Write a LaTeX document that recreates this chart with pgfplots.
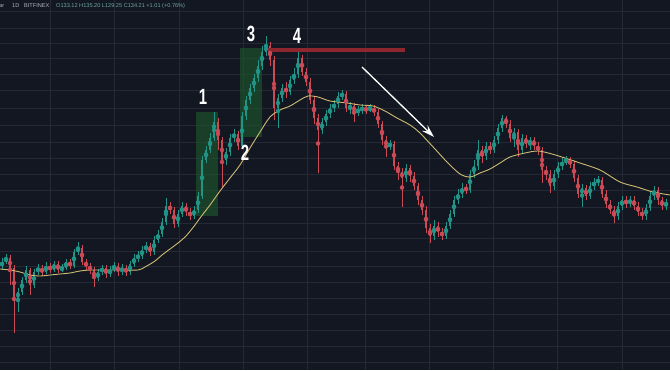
\documentclass[border=0pt]{standalone}
\usepackage{pgfplots}
\pgfplotsset{compat=1.18}
\usepackage{pgfplotstable}
\usepackage{fontspec}
\setmainfont{Liberation Sans}
\usetikzlibrary{arrows.meta}
\definecolor{bg}{HTML}{131722}
\definecolor{gridc}{HTML}{252935}
\definecolor{upc}{HTML}{229487}
\definecolor{dnc}{HTML}{CC4A55}
\definecolor{mac}{HTML}{CDBB72}
\definecolor{boxc}{HTML}{1E5A2C}
\definecolor{resc}{HTML}{8E2630}
\definecolor{hdr}{HTML}{B2B5BE}
\definecolor{hdrv}{HTML}{6FA7A0}

\pgfplotstableread{
x o c hi lo
2 266 262 258 270
6 262 258 254 264
10 258 268 255 285
14 268 298 265 333
18 298 292 288 312
22 292 280 277 295
26 280 270 266 283
30 270 285 268 295
34 285 272 269 288
38 272 268 264 275
42 268 272 265 276
46 272 266 262 274
50 266 270 263 273
54 270 264 261 272
58 264 270 261 273
62 270 268 264 272
66 268 262 259 270
70 262 266 259 269
74 266 252 249 268
78 252 248 242 255
82 248 262 245 265
86 262 266 259 270
90 266 270 263 274
94 270 278 267 287
98 278 272 269 281
102 272 268 265 275
106 268 274 265 278
110 274 270 266 277
114 270 266 262 272
118 266 272 263 276
122 272 268 264 275
126 268 272 265 276
130 272 264 261 275
134 264 258 254 267
138 258 256 251 262
142 256 250 246 259
146 250 246 242 253
150 246 252 243 256
154 252 240 236 255
158 240 234 230 243
162 234 222 218 237
166 222 206 198 225
170 206 210 202 214
174 210 224 207 228
178 224 214 210 227
182 214 206 202 217
186 206 212 203 216
190 212 216 208 220
194 216 210 206 219
198 210 196 192 213
202 196 160 156 199
206 160 150 146 163
210 150 138 133 153
214 138 122 112 141
218 122 140 118 150
222 140 160 137 187
226 160 152 148 165
230 152 138 134 156
234 138 134 129 142
238 134 146 131 150
242 146 116 112 149
246 116 100 96 120
250 100 88 84 104
254 88 78 74 92
258 78 66 60 82
262 66 52 46 70
266 52 46 36 56
270 46 60 42 66
274 60 108 56 120
278 108 98 94 128
282 98 88 84 102
286 88 92 82 98
290 92 80 76 95
294 80 74 68 84
298 74 58 52 78
302 58 72 55 76
306 72 82 68 86
310 82 100 78 104
314 100 118 96 124
318 118 130 114 173
322 130 122 118 134
326 122 114 110 126
330 114 108 104 118
334 108 104 100 112
338 104 96 92 108
342 96 94 90 100
346 94 108 91 112
350 108 106 102 114
354 106 112 103 122
358 112 110 106 116
362 110 108 104 114
366 108 110 105 114
370 110 108 104 112
374 108 112 105 116
378 112 124 109 128
382 124 140 121 145
386 140 146 136 157
390 146 144 140 150
394 144 166 141 170
398 166 172 162 180
402 172 178 168 207
406 178 168 164 182
410 168 176 165 182
414 176 186 172 190
418 186 200 183 205
422 200 210 196 215
426 210 228 206 233
430 228 236 224 243
434 236 226 220 240
438 226 232 222 237
442 232 236 228 240
446 236 226 222 239
450 226 214 210 229
454 214 200 196 217
458 200 194 189 204
462 194 188 183 198
466 188 190 184 194
470 190 174 170 193
474 174 166 160 178
478 166 150 140 170
482 150 156 146 163
486 156 146 142 160
490 146 150 142 154
494 150 140 136 153
498 140 128 124 144
502 128 118 115 132
506 118 124 116 128
510 124 138 120 142
514 138 132 128 147
518 132 150 129 157
522 150 138 134 153
526 138 144 135 148
530 144 140 137 150
534 140 146 137 150
538 146 150 142 155
542 150 170 147 183
546 170 174 166 180
550 174 186 170 193
554 186 174 170 190
558 174 166 162 178
562 166 162 158 170
566 162 160 156 165
570 160 164 157 168
574 164 178 161 182
578 178 194 175 198
582 194 188 184 207
586 188 196 185 200
590 196 186 182 199
594 186 182 178 190
598 182 180 176 186
602 180 194 177 198
606 194 204 190 208
610 204 210 200 214
614 210 216 206 223
618 216 206 202 220
622 206 200 196 210
626 200 204 196 208
630 204 200 196 207
634 200 206 196 210
638 206 212 202 216
642 212 216 208 220
646 216 208 204 220
650 208 196 192 211
654 196 190 186 200
658 190 200 187 205
662 200 206 197 210
666 206 202 199 210
}\candles

\begin{document}
\begin{tikzpicture}
\begin{axis}[
  width=670pt, height=370pt, scale only axis,
  xmin=0, xmax=670, ymin=0, ymax=370, y dir=reverse,
  axis background/.style={fill=bg},
  axis line style={draw=none},
  xtick={50,114,179,243,307,365,429,493,557,622},
  ytick={11,28,43,58,74,90,108,125,142,158,174,190,207,223,238,251,266,282,298,314,330,346,362},
  xticklabels={}, yticklabels={},
  major tick length=0pt,
  grid=major, major grid style={gridc, line width=0.7pt},
]
\coordinate (SW) at (rel axis cs:0,0);
\coordinate (NE) at (rel axis cs:1,1);

% highlight boxes
\addplot[draw=none, fill=boxc, fill opacity=0.6, forget plot] coordinates {(196,112) (218,112) (218,216) (196,216)};
\addplot[draw=none, fill=boxc, fill opacity=0.6, forget plot] coordinates {(240,48) (262,48) (262,137) (240,137)};

% wicks
\addplot[upc, only marks, mark=none, forget plot,
  error bars/.cd, y dir=both, y explicit, error mark=none, error bar style={line width=0.8pt}]
  table[x=x, y expr={\thisrow{c}<\thisrow{o} ? (\thisrow{hi}+\thisrow{lo})/2 : nan}, y error expr={(\thisrow{lo}-\thisrow{hi})/2}] {\candles};
\addplot[dnc, only marks, mark=none, forget plot,
  error bars/.cd, y dir=both, y explicit, error mark=none, error bar style={line width=0.8pt}]
  table[x=x, y expr={\thisrow{c}<\thisrow{o} ? nan : (\thisrow{hi}+\thisrow{lo})/2}, y error expr={(\thisrow{lo}-\thisrow{hi})/2}] {\candles};
% bodies
\addplot[upc, only marks, mark=none, forget plot,
  error bars/.cd, y dir=both, y explicit, error mark=none, error bar style={line width=2.6pt}]
  table[x=x, y expr={\thisrow{c}<\thisrow{o} ? (\thisrow{o}+\thisrow{c})/2 : nan}, y error expr={max(abs(\thisrow{o}-\thisrow{c})/2,0.6)}] {\candles};
\addplot[dnc, only marks, mark=none, forget plot,
  error bars/.cd, y dir=both, y explicit, error mark=none, error bar style={line width=2.6pt}]
  table[x=x, y expr={\thisrow{c}<\thisrow{o} ? nan : (\thisrow{o}+\thisrow{c})/2}, y error expr={max(abs(\thisrow{o}-\thisrow{c})/2,0.6)}] {\candles};

% moving average
\addplot[mac, line width=0.9pt, smooth, forget plot] coordinates {
(0,269) (10,270) (20,272) (30,275) (40,276) (50,275) (60,274) (70,273) (80,271) (90,270) (100,270) (120,270) (138,270) (145,267) (155,261) (162,255) (170,249) (178,243) (186,236) (195,225) (200,218) (210,205) (220,191) (230,178) (240,165) (250,148) (260,132) (270,117) (280,110) (290,106) (300,100) (308,96) (318,97) (330,101) (347,103) (360,105) (373,106) (385,111) (397,118) (410,125) (420,133) (435,149) (447,162) (460,174) (470,177) (480,173) (490,169) (500,163) (510,157) (525,153) (538,151) (552,154) (568,159) (580,163) (600,170) (620,182) (637,187) (653,192) (670,195)};

% resistance line
\addplot[resc, line width=3.5pt, forget plot] coordinates {(268,50) (405,50)};
% arrow
\addplot[white, line width=1.3pt, -{Stealth[length=13pt, width=8pt, inset=5pt]}, forget plot] coordinates {(362,67) (434,137)};

% labels
\node[text=white, font=\bfseries\fontsize{22}{22}\selectfont, xscale=0.68, inner sep=0] at (axis cs:203,97) {1};
\node[text=white, font=\bfseries\fontsize{22}{22}\selectfont, xscale=0.68, inner sep=0] at (axis cs:245,153) {2};
\node[text=white, font=\bfseries\fontsize{22}{22}\selectfont, xscale=0.68, inner sep=0] at (axis cs:251,34) {3};
\node[text=white, font=\bfseries\fontsize{22}{22}\selectfont, xscale=0.68, inner sep=0] at (axis cs:297,36) {4};

% header
\node[anchor=west, text=hdr, font=\fontsize{5.6}{6}\selectfont, inner sep=0] at (axis cs:-1,6) {ar};
\node[anchor=west, text=hdr, font=\fontsize{5.6}{6}\selectfont, inner sep=0] at (axis cs:12,6) {1D};
\node[anchor=west, text=hdr, font=\fontsize{5.6}{6}\selectfont, inner sep=0] at (axis cs:24,6) {BITFINEX};
\node[anchor=west, text=hdrv, font=\fontsize{5.6}{6}\selectfont, inner sep=0] at (axis cs:56,6) {O133.12 H135.20 L129.25 C134.21 +1.01 (+0.76\%)};
\end{axis}
\pgfresetboundingbox
\path (SW) rectangle (NE);
\end{tikzpicture}
\end{document}
